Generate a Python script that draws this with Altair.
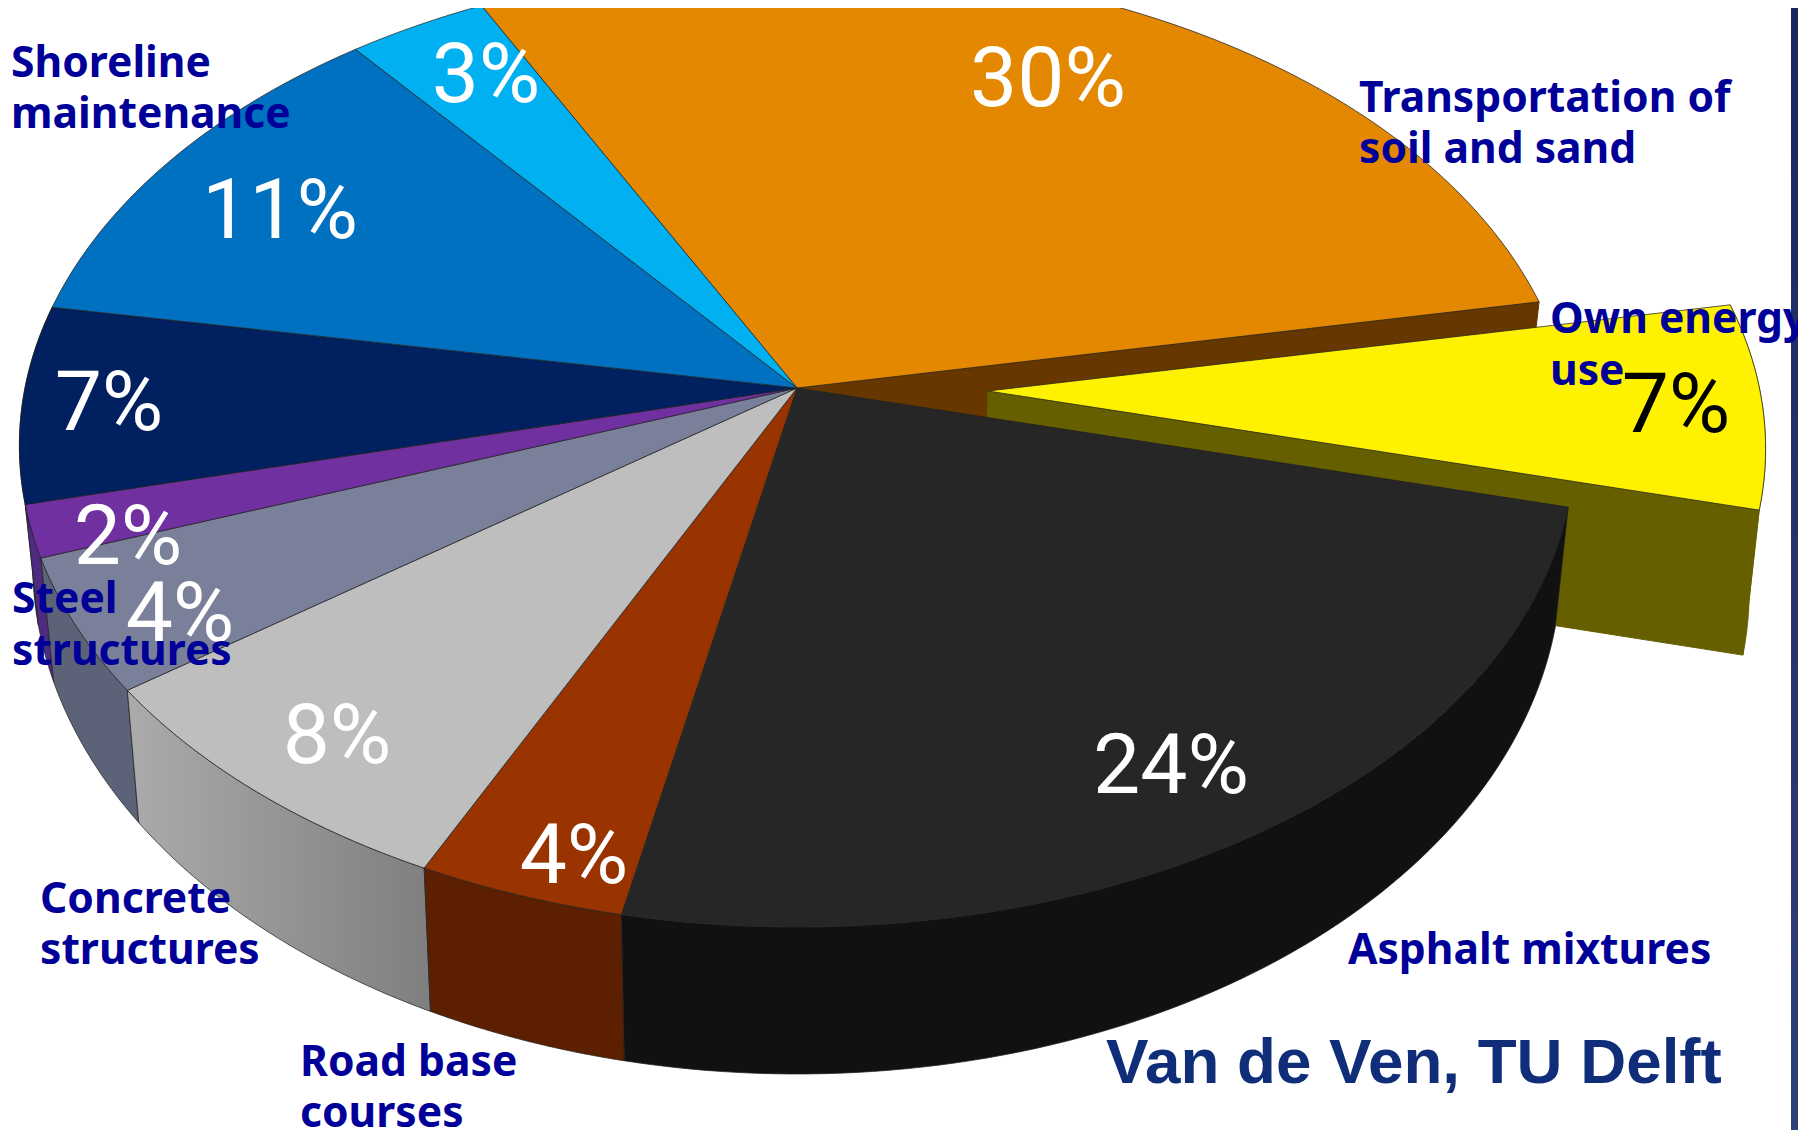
import numpy as np
import pandas as pd
import altair as alt

# ---- data ----
names = ["Transportation of soil and sand", "Own energy use", "Asphalt mixtures", "Road base courses",
         "Concrete structures", "Steel structures", "Purple", "Navy", "Shoreline maintenance", "Light blue"]
# slice sizes as drawn in the picture (percent of the circle), clockwise from the orange slice
shares = [29.5, 6.89, 24.3, 3.87, 7.83, 4.5, 1.75, 6.61, 11.47, 3.28]
pct_labels = ["30%", "7%", "24%", "4%", "8%", "4%", "2%", "7%", "11%", "3%"]
top_colors = ["#E38800", "#FFF200", "#262626", "#993300", "#BEBEBE", "#7A7F9A", "#7030A0", "#002060", "#0070C0", "#00B0F0"]
rim_colors = ["#663800", "#665F00", "#111111", "#5C2000", None, "#5C6278", "#4E2A80", "#001540", "#00508C", "#007CAA"]
pct_colors = ["white", "black", "white", "white", "white", "white", "white", "white", "white", "white"]

pct_x = [1048, 1676, 1171, 574, 337, 180, 128, 109, 280, 486]
pct_y = [81, 407, 768, 858, 738, 616, 539, 405, 213, 77]

note_text = ["Transportation of", "soil and sand", "Own energy", "use", "Asphalt mixtures", "Road base", "courses",
             "Concrete", "structures", "Steel", "structures", "Shoreline", "maintenance"]
note_x = [1359, 1359, 1550, 1550, 1348, 300, 300, 40, 40, 12, 12, 11, 11]
note_y = [112, 163, 333, 385, 964, 1076, 1127, 913, 964, 613, 665, 77, 128]

credit = "Van de Ven, TU Delft"

# ---- view geometry ----
AX, AY = 797.0, 388.0      # centre of pie in the picture
A, B, K = 772.0, 474.5, 0.1197
START = 116.9
SHIFT = (191.0, 3.0)       # the pulled-out slice


def top(deg, shift=(0, 0)):
    t = np.radians(deg)
    X, Y = np.cos(t), -np.sin(t)
    d = 1 - K * Y
    return AX + A * X / d + shift[0], AY + B * Y / d + shift[1]


def low(px, py, extra=None):
    if extra is not None:
        return AX + 0.983 * (px - AX), py + extra
    return AX + 0.983 * (px - AX), 1.062 * py + 89.5


edges = START - np.cumsum([0] + shares) * 3.6

sx = alt.Scale(domain=[8, 1798], nice=False, zero=False)
sy = alt.Scale(domain=[8, 1130], nice=False, zero=False, reverse=True)
X = alt.X("x:Q", scale=sx, axis=None)
Y = alt.Y("y:Q", scale=sy, axis=None)


def poly(xs, ys, fill, stroke="#222222", sw=1.0, so=0.75):
    df = pd.DataFrame({"x": np.asarray(xs, float), "y": np.asarray(ys, float)})
    df = pd.concat([df, df.iloc[:1]], ignore_index=True)
    df["i"] = range(len(df))
    return alt.Chart(df).mark_line(fill=fill, stroke=stroke, strokeWidth=sw, strokeOpacity=so, clip=True,
                                   interpolate="linear").encode(x=X, y=Y, order="i:Q")


def wedge(i, shift=(0, 0)):
    th = np.linspace(edges[i], edges[i + 1], 80)
    px, py = top(th, shift)
    return poly(np.r_[AX + shift[0], px], np.r_[AY + shift[1], py], top_colors[i])


def rim(i, shift=(0, 0), extra=None, fill=None, stroke="#222222"):
    th = np.linspace(edges[i], edges[i + 1], 80)
    px, py = top(th, shift)
    lx, ly = low(px, py, extra)
    return poly(np.r_[px, lx[::-1]], np.r_[py, ly[::-1]], fill or rim_colors[i], stroke=stroke)


def wall(deg, color, shift=(0, 0), extra=None):
    px, py = top(deg, shift)
    cx, cy = AX + shift[0], AY + shift[1]
    lpx, lpy = low(px, py, extra)
    lcx, lcy = low(cx, cy, extra)
    return poly([cx, px, lpx, lcx], [cy, py, lpy, lcy], color, stroke=color, so=1)


grey_rim = alt.LinearGradient(gradient="linear", x1=0, x2=1, y1=0, y2=0,
                              stops=[alt.GradientStop(color="#ABABAB", offset=0),
                                     alt.GradientStop(color="#7F7F7F", offset=1)])

layers = []
# right-hand strip of the slide
strip = pd.DataFrame({"x": [1791], "x2": [1798], "y": [8], "y2": [1130]})
layers.append(alt.Chart(strip).mark_rect(
    fill=alt.LinearGradient(gradient="linear", x1=0, x2=0, y1=0, y2=1,
                            stops=[alt.GradientStop(color="#18285E", offset=0),
                                   alt.GradientStop(color="#2E4078", offset=1)])
).encode(x=X, x2="x2:Q", y=Y, y2="y2:Q"))

layers.append(wall(edges[1], rim_colors[0]))
layers.append(rim(1, SHIFT, 145, stroke=rim_colors[1]))
layers.append(wall(edges[2], rim_colors[1], SHIFT, 145))
layers.append(wedge(1, SHIFT))
for i in [7, 6, 5]:
    layers.append(rim(i))
layers.append(rim(4, fill=grey_rim))
layers.append(rim(3))
layers.append(rim(2))
for i in [0, 2, 3, 4, 5, 6, 7, 8, 9]:
    layers.append(wedge(i))

pct = pd.DataFrame({"x": pct_x, "y": pct_y, "t": pct_labels, "c": pct_colors})
layers.append(alt.Chart(pct).mark_text(font="Roboto", fontSize=84, fontWeight=400, align="center", baseline="middle").encode(
    x=X, y=Y, text="t:N", color=alt.Color("c:N", scale=None)))

notes = pd.DataFrame({"x": note_x, "y": note_y, "t": note_text})
layers.append(alt.Chart(notes).mark_text(font="Noto Sans", fontSize=42.6, fontWeight="bold", color="#000099",
                                         align="left", baseline="alphabetic").encode(x=X, y=Y, text="t:N"))

cred = pd.DataFrame({"x": [1106], "y": [1083], "t": [credit]})
layers.append(alt.Chart(cred).mark_text(font="Liberation Sans", fontSize=63.7, fontWeight="bold", color="#0F2D78",
                                        align="left", baseline="alphabetic").encode(x=X, y=Y, text="t:N"))

chart = alt.layer(*layers).properties(
    width=1790, height=1122, padding=0, autosize=alt.AutoSizeParams(type="none"), background="white"
).configure_view(stroke=None)

chart.save("out.html", embed_options={"renderer": "svg", "actions": False})
